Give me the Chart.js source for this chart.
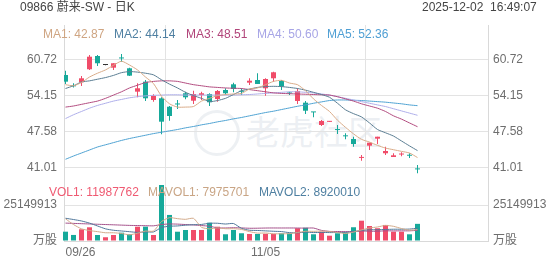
<!DOCTYPE html>
<html><head><meta charset="utf-8">
<script src="https://cdn.jsdelivr.net/npm/chart.js@4.4.1/dist/chart.umd.min.js"></script>
<style>
html,body{margin:0;padding:0;background:#fff;}
#wrap{position:relative;width:552px;height:265px;overflow:hidden;font-family:"Liberation Sans","Noto Sans CJK SC",Arial,sans-serif;}
canvas{position:absolute;left:0;top:0;}
.t{position:absolute;font-size:12px;line-height:14px;white-space:pre;}
#wmring{position:absolute;left:194px;top:110px;width:40px;height:40px;border:3px solid rgba(210,218,226,0.4);border-radius:50%;}
#wmtext{position:absolute;left:246px;top:113px;font-size:34px;line-height:40px;color:rgba(210,218,226,0.42);white-space:pre;}
</style></head><body>
<div id="wrap">
<div id="wmring"></div><div id="wmtext">老虎社区</div>
<canvas id="c" width="552" height="265"></canvas>
<div class="t" style="left:20px;top:0px;color:#444">09866 蔚来-SW - 日K</div>
<div class="t" style="left:422px;top:0px;color:#444">2025-12-02  16:49:07</div>
<div class="t" id="ma1t" style="left:43px;top:27px;color:#cfa582"></div>
<div class="t" id="ma2t" style="left:114px;top:27px;color:#4e7fa1"></div>
<div class="t" id="ma3t" style="left:186px;top:27px;color:#b1457a"></div>
<div class="t" id="ma4t" style="left:257px;top:27px;color:#a7a5e6"></div>
<div class="t" id="ma5t" style="left:327px;top:27px;color:#4f9fd4"></div>
<div class="t" id="v1t" style="left:49px;top:185px;color:#ef5a72"></div>
<div class="t" id="mv1t" style="left:148px;top:185px;color:#c9a585"></div>
<div class="t" id="mv2t" style="left:259px;top:185px;color:#4e7fa1"></div>
</div>
<script>
const dates = ['09/26','09/29','09/30','10/02','10/03','10/06','10/08','10/09','10/10','10/13','10/14','10/15','10/16','10/17','10/20','10/21','10/22','10/23','10/24','10/27','10/28','10/30','10/31','11/03','11/04','11/05','11/06','11/07','11/10','11/11','11/12','11/13','11/14','11/17','11/18','11/19','11/20','11/21','11/24','11/25','11/26','11/27','11/28','12/01','12/02'];
const xTickIdx = [0, 25, 50];
const opens  = [57.97,56.0,56.64,59.02,61.45,59.8,59.31,61.1,59.2,54.92,56.75,53.4,53.71,52.17,52.65,54.63,53.27,54.31,54.5,53.58,55.23,56.27,54.97,56.57,57.06,55.54,57.37,56.88,54.66,53.22,52.91,51.17,48.82,49.4,47.95,46.9,46.26,42.8,45.04,46.32,43.65,42.97,43.42,43.25,40.75];
const closes = [56.75,55.9,57.37,61.32,60.12,59.8,60.12,61.0,57.85,55.54,53.71,54.13,49.43,50.47,52.58,53.89,54.5,54.63,52.98,55.05,54.63,55.41,54.9,56.93,56.33,57.24,58.47,55.84,54.6,55.05,51.44,51.13,49.56,49.45,47.9,46.75,45.35,42.88,45.59,46.68,44.07,43.28,43.48,43.2,40.7];
const highs  = [58.76,56.45,57.79,61.64,61.64,59.85,60.12,61.82,59.31,56.45,57.06,54.44,53.89,52.30,53.4,54.92,55.1,54.92,54.63,55.23,55.54,56.57,55.54,57.37,58.28,57.37,58.58,57.06,54.92,55.54,53.22,51.2,49.74,49.5,48.82,47.3,46.68,43.33,45.59,46.68,44.85,43.65,43.82,43.65,41.5];
const lows   = [56.33,55.7,55.96,58.89,59.62,59.75,58.89,60.41,57.79,53.89,53.22,53.09,47.12,49.61,51.75,53.53,52.67,53.4,52.30,53.09,54.31,54.81,54.31,56.14,56.33,54.19,56.75,55.23,54.31,52.67,50.84,50.23,48.64,49.35,47.18,46.2,44.85,42.29,44.25,45.35,43.33,42.97,43.1,42.78,40.0];
const ma1 = [56.2,56.0,56.6,57.6,58.3,58.9,59.75,60.5,59.8,58.9,57.6,56.4,54.1,52.7,52.1,52.1,52.2,53.2,53.7,54.2,54.4,54.5,54.6,55.4,55.6,56.2,56.8,57.0,56.5,56.2,55.1,53.6,52.4,51.3,49.7,48.4,47.2,46.2,45.7,45.1,44.6,44.3,44.0,43.7,42.87];
const ma2 = [55.5,56.0,56.7,56.9,57.2,57.5,57.9,58.4,58.6,58.5,58.3,58.0,57.1,56.3,55.6,54.8,54.2,53.7,53.1,53.3,53.7,54.4,55.1,55.4,55.7,55.85,55.9,55.85,55.7,55.5,55.2,54.8,54.4,53.9,52.8,51.6,50.9,50.3,49.2,48.0,47.4,46.8,45.9,45.0,44.14];
const ma3 = [52.1,52.3,52.6,52.9,53.2,53.7,54.3,54.9,55.6,56.1,56.6,56.8,56.9,56.9,56.8,56.5,56.2,56.0,55.8,55.7,55.6,55.55,55.5,55.3,55.1,54.9,54.7,54.6,54.55,54.5,54.45,54.4,54.35,54.3,54.0,53.6,53.2,52.7,52.3,51.9,51.3,50.5,49.9,49.2,48.51];
const ma4 = [50.0,50.7,51.3,51.9,52.4,52.8,53.2,53.5,53.8,54.0,54.15,54.25,54.3,54.35,54.35,54.3,54.3,54.3,54.3,54.3,54.3,54.3,54.35,54.4,54.5,54.6,54.7,54.8,54.9,54.9,54.8,54.7,54.5,54.3,54.0,53.7,53.4,53.1,52.8,52.5,52.2,51.8,51.4,51.0,50.6];
const ma5 = [42.55,43.15,43.7,44.25,44.8,45.2,45.6,46.0,46.35,46.65,46.95,47.25,47.5,47.75,48.0,48.3,48.55,48.85,49.1,49.4,49.65,49.95,50.2,50.5,50.8,51.1,51.35,51.65,51.95,52.25,52.5,52.8,53.05,53.3,53.4,53.4,53.35,53.3,53.2,53.1,53.0,52.85,52.7,52.5,52.36];
const volumes = [6512000,4230000,8190000,9580000,4210000,2620000,4190000,5810000,4680000,9990000,10030000,4200000,39120000,18210000,6490000,7700000,7680000,7720000,12790000,9980000,4700000,7690000,5410000,4920000,4880000,5020000,4990000,5400000,5380000,8910000,9290000,4700000,6520000,3710000,5390000,5820000,9610000,14190000,10480000,8920000,11210000,6510000,6490000,4690000,11987762];
const mavol1 = [15500000,11500000,8500000,7300000,6540000,5760000,5760000,5280000,4300000,5460000,6940000,6940000,13600000,16300000,15600000,15140000,15840000,9560000,8480000,9180000,8580000,8580000,8120000,6540000,5520000,5580000,5040000,5040000,5140000,5940000,6800000,6740000,6960000,6620000,5920000,5220000,6200000,7740000,9100000,9800000,10880000,10260000,8720000,7560000,7975701];
const mavol2 = [15900000,15000000,14000000,12500000,10500000,8500000,7500000,7000000,6500000,6000000,6350000,6350000,9440000,10300000,10530000,11040000,11390000,11580000,12390000,12390000,11860000,12210000,8840000,7510000,7350000,7080000,6810000,6580000,5840000,5730000,6190000,5890000,6000000,5880000,5930000,6010000,6470000,7350000,7860000,7860000,8050000,8230000,8230000,8330000,8920010];
const mavol3 = [12500000,12300000,12100000,11900000,11700000,11500000,11300000,11100000,10900000,10800000,10700000,10600000,11500000,11900000,11800000,11500000,11200000,10800000,10300000,9200000,9100000,9280000,9140000,8900000,8940000,9060000,9100000,9080000,9100000,9060000,9000000,9050000,7420000,6700000,6640000,6550000,6640000,6970000,6850000,6800000,7120000,7060000,7100000,7100000,7460000];
const priceTicks = [41.01, 47.58, 54.15, 60.72];
const volTicks = [0, 25149913];

const RED = '#f04c69', GREEN = '#16a99a', FLAT = '#333333';
const FONT = '"Liberation Sans","Noto Sans CJK SC",Arial,sans-serif';
const TICKC = '#6e6e6e', GRIDC = '#e3e3e3', BORDC = '#d9d9d9';
const candleColor = i => closes[i] > opens[i] ? RED : (closes[i] < opens[i] ? GREEN : FLAT);
const volColor = i => closes[i] >= opens[i] ? RED : GREEN;
const idx = dates.map((d, i) => i);
const last = a => a[a.length - 1];

document.getElementById('ma1t').textContent = 'MA1: ' + last(ma1).toFixed(2);
document.getElementById('ma2t').textContent = 'MA2: ' + last(ma2).toFixed(2);
document.getElementById('ma3t').textContent = 'MA3: ' + last(ma3).toFixed(2);
document.getElementById('ma4t').textContent = 'MA4: ' + last(ma4).toFixed(2);
document.getElementById('ma5t').textContent = 'MA5: ' + last(ma5).toFixed(2);
document.getElementById('v1t').textContent = 'VOL1: ' + last(volumes);
document.getElementById('mv1t').textContent = 'MAVOL1: ' + last(mavol1);
document.getElementById('mv2t').textContent = 'MAVOL2: ' + last(mavol2);

const lineDs = (arr, color, axis) => ({
  type: 'line', data: idx.map(i => ({x: i, y: arr[i]})), borderColor: color, borderWidth: 1,
  pointRadius: 0, tension: 0.2, yAxisID: axis, order: 1, clip: false
});

const tickFont = {family: FONT, size: 12};
const P_MIN = 38.76, P_MAX = 67.12, V_MIN = 0, V_MAX = 42615408;

new Chart(document.getElementById('c'), {
  type: 'bar',
  data: {
    datasets: [
      lineDs(ma1, '#d9ab88', 'y'),
      lineDs(ma2, '#5a7d92', 'y'),
      lineDs(ma3, '#b24b7f', 'y'),
      lineDs(ma4, '#aeaeea', 'y'),
      lineDs(ma5, '#4ea2d2', 'y'),
      lineDs(mavol1, '#d2aa8a', 'yv'),
      lineDs(mavol2, '#50779a', 'yv'),
      lineDs(mavol3, '#a4508a', 'yv'),
      { type: 'bar', data: idx.map(i => ({x: i, y: [lows[i], highs[i]]})),
        backgroundColor: c => candleColor(c.dataIndex), barThickness: 1, grouped: false,
        inflateAmount: 0, borderWidth: 0, yAxisID: 'y', order: 3 },
      { type: 'bar', data: idx.map(i => ({x: i, y: [Math.min(opens[i], closes[i]), Math.max(opens[i], closes[i])]})),
        backgroundColor: c => candleColor(c.dataIndex), barThickness: 5, minBarLength: 1, grouped: false,
        inflateAmount: 0, borderWidth: 0, yAxisID: 'y', order: 2 },
      { type: 'bar', data: idx.map(i => ({x: i, y: volumes[i]})),
        backgroundColor: c => volColor(c.dataIndex), barThickness: 5, grouped: false,
        inflateAmount: 0, borderWidth: 0, yAxisID: 'yv', order: 2, clip: false }
    ]
  },
  options: {
    responsive: false, animation: false, events: [],
    layout: {padding: {top: 25, left: 0, right: 0, bottom: 0}},
    plugins: {legend: {display: false}, tooltip: {enabled: false}},
    scales: {
      x: {
        type: 'linear', min: -0.1875, max: 52.8125, offset: false,
        afterBuildTicks: s => { s.ticks = xTickIdx.map(v => ({value: v})); },
        afterFit: s => { s.height = 24; },
        ticks: {align: 'inner', maxRotation: 0, autoSkip: false, padding: 4, color: TICKC, font: tickFont,
                callback: v => dates[v] || ''},
        grid: {drawTicks: false, color: c => (c.tick && c.tick.value === 0) ? 'rgba(0,0,0,0)' : GRIDC},
        border: {display: true, color: BORDC}
      },
      yv: {
        type: 'linear', position: 'left', stack: 'L', stackWeight: 61, min: V_MIN, max: V_MAX,
        afterBuildTicks: s => { s.ticks = volTicks.map(v => ({value: v})); },
        afterFit: s => { s.width = 64; },
        ticks: {padding: 7, color: TICKC, font: tickFont, callback: v => v === 0 ? '万股' : String(v)},
        grid: {drawTicks: false, color: GRIDC}, border: {color: BORDC}
      },
      y: {
        type: 'linear', position: 'left', stack: 'L', stackWeight: 155, min: P_MIN, max: P_MAX,
        afterBuildTicks: s => { s.ticks = priceTicks.map(v => ({value: v})); },
        afterFit: s => { s.width = 64; },
        ticks: {padding: 7, color: TICKC, font: tickFont, callback: v => v.toFixed(2)},
        grid: {drawTicks: false, color: GRIDC}, border: {color: BORDC}
      },
      yR: {
        type: 'linear', position: 'right', stack: 'R', stackWeight: 155, min: P_MIN, max: P_MAX,
        afterBuildTicks: s => { s.ticks = priceTicks.map(v => ({value: v})); },
        afterFit: s => { s.width = 64; },
        ticks: {padding: 5, color: TICKC, font: tickFont, callback: v => v.toFixed(2)},
        grid: {drawTicks: false, drawOnChartArea: false}, border: {color: BORDC}
      },
      yvR: {
        type: 'linear', position: 'right', stack: 'R', stackWeight: 61, min: V_MIN, max: V_MAX,
        afterBuildTicks: s => { s.ticks = volTicks.map(v => ({value: v})); },
        afterFit: s => { s.width = 64; },
        ticks: {padding: 5, color: TICKC, font: tickFont, callback: v => v === 0 ? '万股' : String(v)},
        grid: {drawTicks: false, drawOnChartArea: false}, border: {color: BORDC}
      }
    }
  }
});
</script>
</body></html>
